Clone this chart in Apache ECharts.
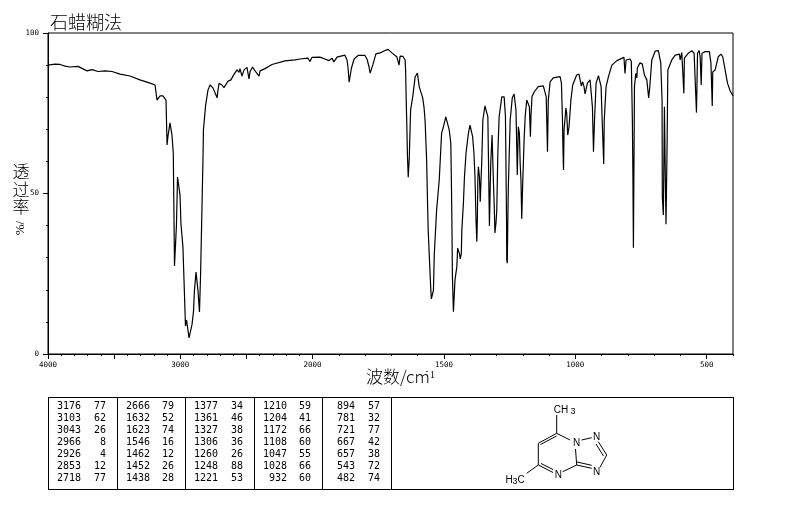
<!DOCTYPE html>
<html><head><meta charset="utf-8">
<script src="https://cdn.jsdelivr.net/npm/echarts@6/dist/echarts.min.js"></script>
<style>html,body{margin:0;padding:0;background:#fff}#c{width:794px;height:510px}</style>
</head><body><div id="c"></div>
<script>
const wavenumbers = [
4000,3947,3909,3871,3834,3773,3705,3667,3622,3569,3516,3456,3380,3305,3229,3191,3176,3169,3153,3131,
3108,3100,3093,3078,3070,3063,3053,3048,3044,3036,3029,3021,3010,3002,2995,2980,2972,2964,2961,2953,
2942,2934,2923,2911,2900,2893,2881,2874,2866,2855,2851,2847,2836,2828,2825,2809,2791,2775,2753,2738,
2722,2715,2707,2685,2670,2639,2617,2594,2571,2556,2549,2534,2518,2496,2481,2473,2454,2435,2420,2405,
2397,2360,2307,2292,2208,2133,2095,2035,2020,2005,1972,1953,1938,1926,1919,1907,1877,1869,1865,1861,
1858,1852,1842,1827,1801,1793,1785,1781,1778,1770,1759,1743,1728,1713,1698,1679,1671,1667,1656,1648,
1646,1644,1641,1639,1636,1633,1632,1627,1619,1611,1610,1601,1598,1594,1587,1581,1576,1572,1566,1562,
1560,1556,1550,1548,1544,1540,1537,1528,1518,1509,1502,1493,1487,1480,1474,1472,1470,1468,1464,1461,
1458,1451,1448,1444,1441,1438,1434,1432,1426,1422,1416,1407,1401,1396,1391,1386,1382,1378,1375,1373,
1371,1369,1365,1362,1356,1352,1344,1337,1333,1331,1327,1322,1317,1312,1309,1306,1302,1299,1295,1290,
1280,1271,1266,1262,1261,1259,1257,1255,1248,1240,1233,1229,1226,1223,1221,1217,1213,1210,1207,1204,
1200,1195,1191,1185,1179,1175,1171,1169,1165,1156,1141,1122,1115,1111,1106,1103,1096,1084,1058,1053,
1049,1047,1045,1043,1036,1033,1029,1024,1017,1010,995,986,982,977,972,967,963,958,954,944,
939,935,931,927,921,912,906,902,898,892,890,883,874,861,842,815,811,807,792,787,
783,781,779,775,770,766,764,754,745,737,728,721,717,709,696,684,675,670,669,665,
661,658,655,651,648,644,633,620,604,601,595,591,587,585,570,557,548,543,539,535,
529,525,521,518,506,490,484,479,477,468,456,446,439,430,421,411,400];
const transmittance = [
90.0,90.3,90.2,89.7,89.4,89.6,88.2,88.6,88.0,88.2,88.0,87.2,86.6,85.4,84.4,83.8,79.1,78.8,80.4,80.4,
79.1,65.1,67.9,72.0,72.0,68.2,62.6,43.9,27.4,27.4,40.2,55.1,55.1,49.5,40.5,33.3,23.1,12.8,8.7,10.6,
10.0,5.0,5.0,9.3,13.4,19.9,25.5,22.7,19.6,13.1,13.1,24.3,45.8,62.0,69.8,77.3,82.2,83.8,82.9,83.0,
79.8,82.2,84.3,83.8,83.0,85.0,85.4,87.1,88.5,87.7,88.9,86.6,88.5,89.3,85.7,87.9,89.4,88.2,88.0,86.6,
88.2,88.9,90.2,90.7,91.3,91.6,91.9,92.2,91.1,92.4,92.5,91.9,91.4,92.1,91.0,92.5,93.1,91.6,89.1,84.7,
84.7,89.1,91.9,93.0,93.0,91.9,89.4,87.5,87.9,90.3,93.5,93.8,94.4,94.9,93.8,92.5,90.0,92.8,92.7,91.6,
88.5,80.1,69.8,61.7,55.1,54.5,61.1,76.0,80.1,85.4,86.3,87.5,87.5,83.2,82.9,79.8,76.9,72.9,60.4,45.2,
38.6,30.8,19.9,17.2,17.8,19.9,30.8,44.9,54.2,68.8,70.8,73.9,73.9,69.8,65.7,55.1,42.7,24.6,13.2,12.8,
23.1,27.2,33.0,32.4,31.2,29.6,31.2,38.6,47.0,55.2,62.6,68.8,71.3,71.3,67.7,62.6,55.2,41.7,35.0,41.7,
54.8,58.3,55.2,47.4,60.4,72.9,77.3,77.3,73.9,62.6,39.9,59.5,68.2,54.2,47.0,37.7,40.8,44.9,62.6,73.9,
80.1,80.1,73.9,42.7,29.3,28.3,41.7,52.1,72.9,79.8,81.0,81.0,76.0,64.6,55.8,70.8,68.8,59.5,54.2,42.1,
54.2,66.7,73.9,79.1,79.4,77.0,67.7,73.9,80.2,81.7,83.3,83.5,83.5,80.2,63.0,79.1,84.8,86.0,86.4,84.4,
72.9,63.6,57.3,69.8,76.6,75.1,68.2,70.8,79.1,83.8,86.9,87.2,85.4,83.5,84.8,83.3,81.0,81.0,84.4,85.4,
84.8,77.0,63.0,72.9,84.4,86.7,86.7,83.3,72.9,59.2,72.9,83.3,86.4,90.0,91.4,92.4,87.4,91.6,91.9,91.1,
72.9,56.4,33.1,83.3,87.4,86.0,89.1,90.7,90.3,86.9,85.4,79.8,82.9,91.6,94.4,94.5,90.7,79.1,48.9,43.3,
77.0,57.3,40.4,63.6,88.5,88.7,91.6,93.1,93.4,91.6,93.9,93.7,81.2,92.2,93.7,94.5,93.7,83.3,75.2,93.7,
94.5,92.6,83.8,93.7,94.2,94.2,90.6,77.3,87.9,88.5,92.6,93.4,92.6,88.5,84.4,82.0,80.4];

const majorTicks = [4000,3500,3000,2500,2000,1500,1000,500];
const labelTicks = [4000,3000,2000,1500,1000,500];
const minorTicks = [3900,3800,3700,3600,3400,3300,3200,3100,2900,2800,2700,2600,2400,2300,2200,2100,
  1900,1800,1700,1600,1400,1300,1200,1100,900,800,700,600,400];

const peakWave = [
 ['3176','3103','3043','2966','2926','2853','2718'],
 ['2666','1632','1623','1546','1462','1452','1438'],
 ['1377','1361','1327','1306','1260','1248','1221'],
 ['1210','1204','1172','1108','1047','1028','932'],
 ['894','781','721','667','657','543','482']];
const peakT = [
 ['77','62','26','8','4','12','77'],
 ['79','52','74','16','12','26','28'],
 ['34','46','38','36','26','88','53'],
 ['59','41','66','60','55','66','60'],
 ['57','32','77','42','38','72','74']];

// The instrument's wavenumber axis changes scale at 2000 cm-1.
const HIGH_SPAN = 1007, LOW_SPAN = 1600;
const toAxis = w => w >= 2000 ? (4000 - w) / 2000 * HIGH_SPAN : HIGH_SPAN + (2000 - w);
const fromAxis = t => Math.round(t <= HIGH_SPAN ? 4000 - t / HIGH_SPAN * 2000 : 2000 - (t - HIGH_SPAN));

const mono = '"DejaVu Sans Mono"';
const g = [];
const line = (x1,y1,x2,y2,w) => g.push({type:'line',silent:true,shape:{x1,y1,x2,y2},style:{stroke:'#000',lineWidth:w||1}});
const text = (x,y,t,opt) => g.push({type:'text',silent:true,x,y,rotation:(opt&&opt.rot)||0,style:Object.assign({text:t,fill:'#000',font:'10px '+mono,align:'center',verticalAlign:'middle'},opt&&opt.style)});

// Peak table
const tx = [48,117,185,254,322,391,733], rowY = [406,418,430,442,454,466,478];
const waveRight = [81,150,218,287,355], tRight = [106,174,243,311,380];
line(48,397.5,733,397.5); line(48,489.5,733,489.5);
tx.forEach(x => line(x+.5,397,x+.5,490));
peakWave.forEach((col,i) => col.forEach((v,r) => {
  text(waveRight[i],rowY[r],v,{style:{align:'right'}});
  text(tRight[i],rowY[r],peakT[i][r],{style:{align:'right'}});
}));

// Structure
const sans = '10px "Liberation Sans"';
[[556.7,415,556.7,433.3],[556.7,433.3,538.3,443.3],[556.5,436,540.5,444.5],[538.3,443.3,538.3,465],
 [538.3,465,553,472.5],[541,463.5,553,469.5],[562.7,471.7,576.7,465],[576.7,465,575.5,449],
 [570,440,556.7,433.3],[581.7,440,591.7,437.7],[598.3,441.7,606.7,455],[596,444,603.5,456],
 [606.7,455,600,467.3],[576.7,465,591.7,468.3],[577,462,591.7,465.3],[526.7,473.3,538.3,465]
].forEach(s => line(s[0],s[1],s[2],s[3]));
text(561,410,'CH',{style:{font:sans}}); text(573,412,'3',{style:{font:'9px "Liberation Sans"'}});
text(576.7,443,'N',{style:{font:sans}}); text(596.7,437,'N',{style:{font:sans}});
text(596.7,472,'N',{style:{font:sans}}); text(558.3,475,'N',{style:{font:sans}});
text(509,480,'H',{style:{font:sans}}); text(515,482,'3',{style:{font:'9px "Liberation Sans"'}}); text(521,480,'C',{style:{font:sans}});

// Axis titles
const cjk = '"Noto Sans CJK SC"';
const big = '300 17px '+cjk;
text(21,172,'透',{style:{font:big}}); text(21,190,'过',{style:{font:big}}); text(21,207,'率',{style:{font:big}});
text(21,228,'%/',{rot:Math.PI/2,style:{font:'13px "Liberation Serif"'}});
text(366,377,'波数/cm',{style:{font:big,align:'left'}});
text(427,372,'-',{style:{font:'9px "Liberation Sans"',align:'center'}});
text(432.5,375,'1',{style:{font:'10px "Liberation Serif"',align:'center'}});

const axisLine = {show:true,onZero:false,lineStyle:{color:'#000',width:1}};
const chart = echarts.init(document.getElementById('c'),null,{renderer:'canvas'});
chart.setOption({
  animation:false,
  backgroundColor:'#fff',
  title:{text:'石蜡糊法',left:50,top:13,padding:0,textStyle:{fontFamily:cjk,fontWeight:300,fontSize:18,color:'#000'}},
  grid:{left:48,top:33,width:685,height:321,show:true,borderColor:'#000',borderWidth:1,backgroundColor:'transparent'},
  xAxis:[
   {type:'value',min:0,max:HIGH_SPAN+LOW_SPAN,position:'bottom',axisLine,splitLine:{show:false},
    axisTick:{show:true,length:2,inside:false,lineStyle:{color:'#000'},customValues:minorTicks.map(toAxis)},
    axisLabel:{show:false}},
   {type:'value',min:0,max:HIGH_SPAN+LOW_SPAN,position:'bottom',axisLine,splitLine:{show:false},
    axisTick:{show:true,length:5,lineStyle:{color:'#000'},customValues:majorTicks.map(toAxis)},
    axisLabel:{show:true,color:'#000',fontFamily:mono,fontSize:7.5,margin:7,hideOverlap:false,showMinLabel:true,showMaxLabel:true,
      customValues:labelTicks.map(toAxis),formatter:v=>String(fromAxis(v))}}
  ],
  yAxis:{type:'value',min:0,max:100,interval:50,axisLine,splitLine:{show:false},minorSplitLine:{show:false},
    axisTick:{show:true,length:5,lineStyle:{color:'#000'}},
    minorTick:{show:true,splitNumber:5,length:2,lineStyle:{color:'#000'}},
    axisLabel:{color:'#000',fontFamily:mono,fontSize:7.5,margin:9,showMinLabel:true,showMaxLabel:true}},
  series:[{name:'透过率',type:'line',xAxisIndex:0,showSymbol:false,symbol:'none',smooth:false,clip:true,
    lineStyle:{color:'#000',width:1.2},
    data:wavenumbers.map((w,i)=>[toAxis(w),transmittance[i]])}],
  graphic:g
});
</script></body></html>
